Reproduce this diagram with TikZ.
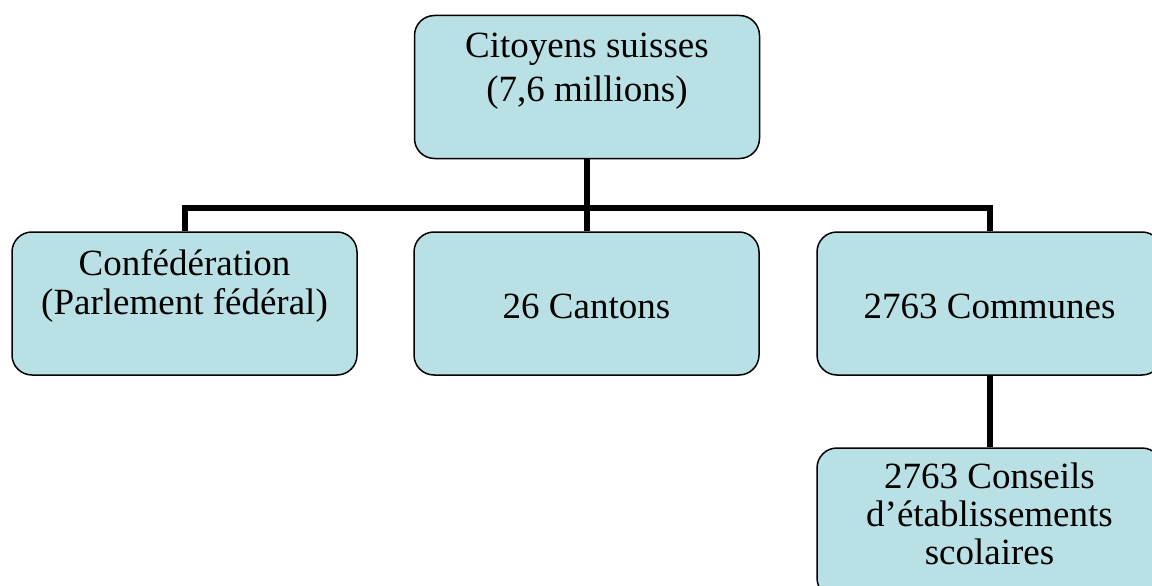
\documentclass[tikz,border=0pt]{standalone}
\usepackage{fontspec}
\setmainfont{Liberation Serif}
\definecolor{boxfill}{RGB}{185,224,228}
\begin{document}
\begin{tikzpicture}[x=1pt,y=1pt,
  box/.style={draw=black, line width=1.5pt, fill=boxfill, rounded corners=20pt,
    minimum width=345pt, minimum height=143pt, inner sep=0pt},
  txt/.style={font=\fontsize{37}{40}\selectfont, align=center, inner sep=0pt, anchor=base},
  conn/.style={line width=6pt, line join=miter}]
\useasboundingbox (0,0) rectangle (1152,-586);
\node[box] (top) at (587,-87) {};
\node[box] (conf) at (184.5,-303.5) {};
\node[box] (cant) at (586.5,-303.5) {};
\node[box] (comm) at (989.5,-303.5) {};
\node[box, minimum height=150pt] (cons) at (989.5,-523) {};
\coordinate (bus) at (0,-208);
\draw[conn] (top.south) -- (top.south |- bus);
\draw[conn] (conf.north) -- (conf.north |- bus) -- (comm.north |- bus) -- (comm.north);
\draw[conn] (cant.north |- bus) -- (cant.north);
\draw[conn] (comm.south) -- (cons.north);
\node[txt, font=\fontsize{37}{44}\selectfont] (ttop) at (587,-102) {Citoyens suisses\\(7,6 millions)};
\node[txt, font=\fontsize{37}{39}\selectfont] (tconf) at (184.5,-314) {Confédération\\(Parlement fédéral)};
\node[txt] (tcant) at (586.5,-318) {26 Cantons};
\node[txt] (tcomm) at (989.5,-318) {2763 Communes};
\node[txt, font=\fontsize{37}{38}\selectfont] (tcons) at (989.5,-564) {2763 Conseils\\d’établissements\\scolaires};
\end{tikzpicture}
\end{document}
